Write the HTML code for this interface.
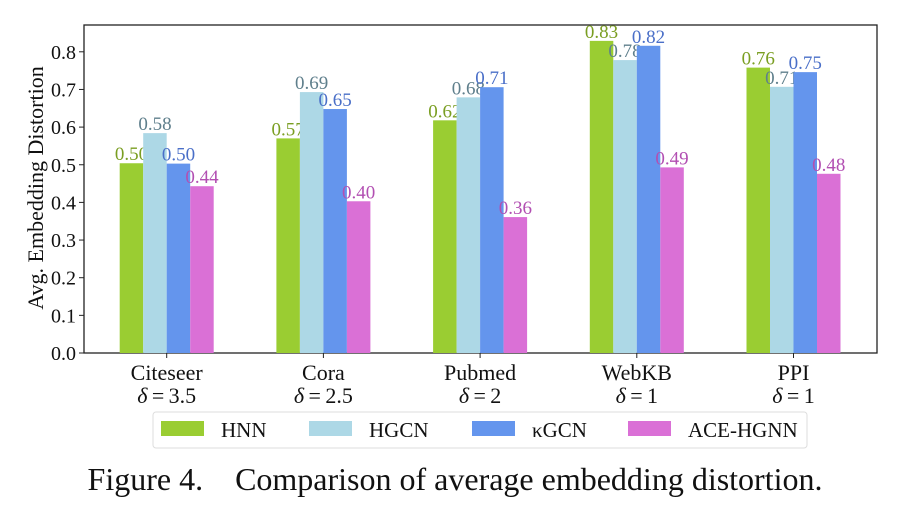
<!DOCTYPE html>
<html><head><meta charset="utf-8"><style>
body{margin:0;background:#fff;}
svg{display:block;font-family:"Liberation Serif",serif;}
</style></head><body>
<svg id="chart" width="905" height="513">
<rect x="84" y="25" width="793" height="328" fill="#fff" stroke="#222" stroke-width="1.3"/>
<g id="bars"></g>
<g id="axes"></g>
<text transform="translate(43,188) rotate(-90)" text-anchor="middle" font-size="22" fill="#111">Avg. Embedding Distortion</text>
<g>
<rect x="153" y="412" width="654" height="36" rx="3" fill="#fff" stroke="#ddd"/>
</g>
<g id="legend"></g>
<text x="455" y="490" text-anchor="middle" font-size="32" fill="#111">Figure 4.&#160;&#160;&#160; Comparison of average embedding distortion.</text>
</svg>
<script>
const categories=["Citeseer","Cora","Pubmed","WebKB","PPI"];
const deltas=["3.5","2.5","2","1","1"];
const seriesNames=["HNN","HGCN","κGCN","ACE-HGNN"];
const hnn=[0.504,0.570,0.618,0.829,0.758];
const hgcn=[0.584,0.693,0.679,0.778,0.707];
const kgcn=[0.503,0.648,0.706,0.816,0.746];
const ace=[0.443,0.403,0.361,0.493,0.476];
const yTicks=[0,0.1,0.2,0.3,0.4,0.5,0.6,0.7,0.8];
const series=[hnn,hgcn,kgcn,ace];
const fills=["#9acd32","#add8e6","#6495ed","#da70d6"];
const textCols=["#7a9e22","#5f7f8c","#4a6fc8","#b24fb2"];
const NS="http://www.w3.org/2000/svg";
const x0=84,x1=877,y0=353,scale=376.5;
const groupW=156.7,firstC=166.7,barW=23.5;
const xC=i=>firstC+i*groupW;
const yS=v=>y0-v*scale;
function mk(tag,attrs,parent,txt){const e=document.createElementNS(NS,tag);for(const k in attrs)e.setAttribute(k,attrs[k]);if(txt!==undefined)e.textContent=txt;parent.appendChild(e);return e;}
const gb=document.getElementById("bars"),ga=document.getElementById("axes"),gl=document.getElementById("legend");
categories.forEach((c,i)=>{
  series.forEach((s,j)=>{
    const bx=xC(i)+(j-2)*barW;
    const r=mk("rect",{x:bx,y:yS(s[i]),width:barW,height:s[i]*scale,fill:fills[j]},gb);
    
    
    const t=mk("text",{x:bx+barW/2,y:yS(s[i])-3,"text-anchor":"middle","font-size":"19",fill:textCols[j]},gb,s[i].toFixed(2));
    
    
  });
  mk("line",{x1:xC(i),x2:xC(i),y1:y0,y2:y0+5,stroke:"#222"},ga);
  const t1=mk("text",{x:xC(i),y:y0+27,"text-anchor":"middle","font-size":"22",fill:"#111"},ga,c);
  
  
  const t2=mk("text",{x:xC(i),y:y0+50,"text-anchor":"middle","font-size":"22",fill:"#111"},ga);
  t2.innerHTML='<tspan font-style="italic">δ</tspan>\u2009=\u2009'+deltas[i];
  
  
});
yTicks.forEach(v=>{
  mk("line",{x1:x0-5,x2:x0,y1:yS(v),y2:yS(v),stroke:"#222"},ga);
  const t=mk("text",{x:x0-8,y:yS(v)+7,"text-anchor":"end","font-size":"20",fill:"#111"},ga,v.toFixed(1));
  
  
});
const legX=[161,309,472,628];
seriesNames.forEach((n,j)=>{
  const r=mk("rect",{x:legX[j],y:421,width:43,height:15,fill:fills[j]},gl);
  
  
  const t=mk("text",{x:legX[j]+60,y:437,"font-size":"21",fill:"#111"},gl,n);
  
  
});
</script>
</body></html>
